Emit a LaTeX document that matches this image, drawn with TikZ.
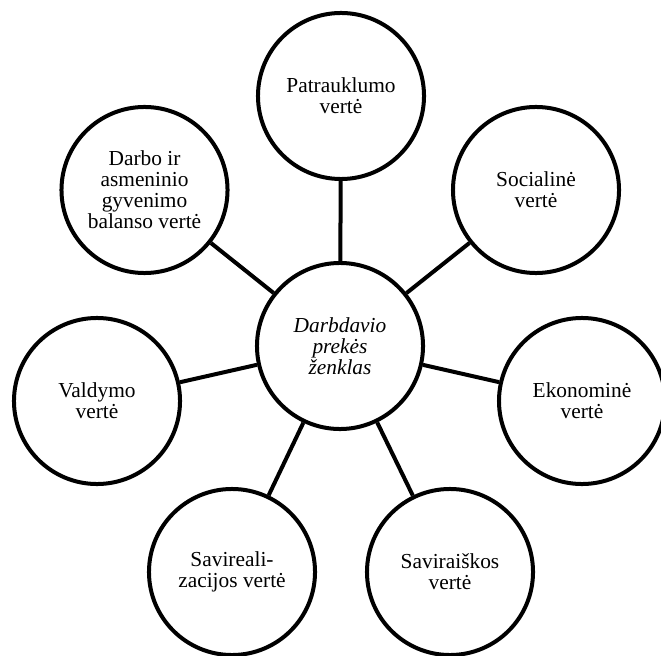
\documentclass[tikz,border=0pt]{standalone}
\usepackage{fontspec}
\setmainfont{Liberation Serif}
\usepackage{tikz}

\tikzset{
  valuecircle/.style={circle, draw, line width=0.1cm, minimum size=4.15cm, inner sep=0pt, align=center, font=\fontsize{15.2pt}{15pt}\selectfont},
  spoke/.style={line width=0.1cm}
}

\begin{document}
\begin{tikzpicture}[x=0.025cm, y=-0.025cm]
    \useasboundingbox (0, 0) rectangle (661, 655) ;
\node[valuecircle] (brand) at (340, 346) {\itshape Darbdavio\\\itshape prekės\\\itshape ženklas} ; % brand
\node[valuecircle] (patrauk) at (341, 96) {Patrauklumo\\vertė} ; % patrauk
\node[valuecircle] (darbas) at (144.5, 190) {Darbo ir\\asmeninio\\gyvenimo\\balanso vertė} ; % darbas
\node[valuecircle] (social) at (536, 190) {Socialinė\\vertė} ; % social
\node[valuecircle] (valdym) at (97, 401) {Valdymo\\vertė} ; % valdym
\node[valuecircle] (ekonom) at (582, 401) {Ekonominė\\vertė} ; % ekonom
\node[valuecircle] (saviral) at (232, 572) {Savireali-\\zacijos vertė} ; % saviral
\node[valuecircle] (saviras) at (450, 572) {Saviraiškos\\vertė} ; % saviras
\draw[spoke] (brand) -- (patrauk) ; % brand.patrauk
\draw[spoke] (brand) -- (darbas) ; % brand.darbas
\draw[spoke] (brand) -- (social) ; % brand.social
\draw[spoke] (brand) -- (valdym) ; % brand.valdym
\draw[spoke] (brand) -- (ekonom) ; % brand.ekonom
\draw[spoke] (brand) -- (saviral) ; % brand.saviral
\draw[spoke] (brand) -- (saviras) ; % brand.saviras

    \end{tikzpicture}
\end{document}
